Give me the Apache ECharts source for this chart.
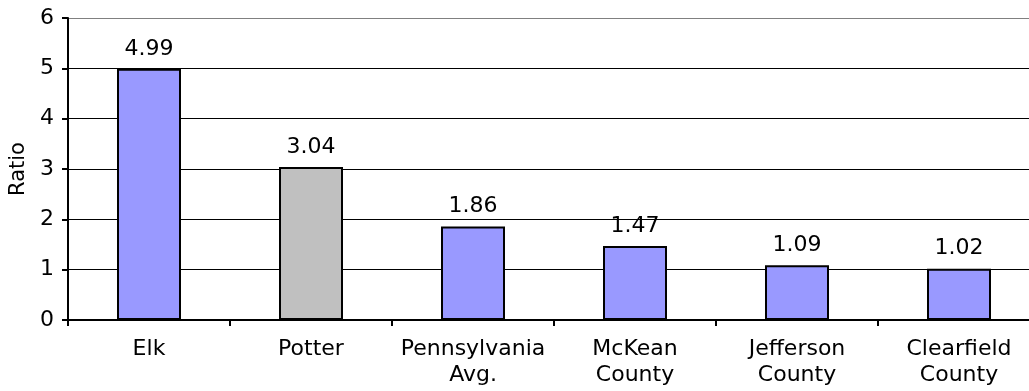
<!DOCTYPE html>
<html><head><meta charset="utf-8">
<script src="https://cdn.jsdelivr.net/npm/echarts@6/dist/echarts.min.js"></script>
<style>html,body{margin:0;padding:0;background:#fff}#c{width:1029px;height:391px}</style>
</head><body><div id="c"></div>
<script>
var categories = ['Elk', 'Potter', 'Pennsylvania\nAvg.', 'McKean\nCounty', 'Jefferson\nCounty', 'Clearfield\nCounty'];
var values = [4.99, 3.04, 1.86, 1.47, 1.09, 1.02];
var barColors = ['#9999FF', '#C0C0C0', '#9999FF', '#9999FF', '#9999FF', '#9999FF'];
var yTicks = [0, 1, 2, 3, 4, 5, 6];

var font = 'DejaVu Sans, Verdana, sans-serif';
var chart = echarts.init(document.getElementById('c'), null, {renderer: 'canvas'});
chart.setOption({
  animation: false,
  grid: {left: 68, top: 18, width: 972, height: 302, outerBoundsMode: 'none', containLabel: false},
  xAxis: {
    type: 'category', data: categories,
    axisLine: {lineStyle: {color: '#000', width: 2}},
    axisTick: {show: true, alignWithLabel: false, length: 6, lineStyle: {color: '#000', width: 2}},
    axisLabel: {color: '#000', fontFamily: font, fontSize: 22, lineHeight: 26, margin: 16, interval: 0}
  },
  yAxis: {
    type: 'value', min: 0, max: 6, interval: 1,
    name: 'Ratio', nameLocation: 'middle', nameGap: 38, nameRotate: 90,
    nameTextStyle: {color: '#000', fontFamily: font, fontSize: 21},
    axisLine: {show: true, lineStyle: {color: '#000', width: 2}},
    axisTick: {show: true, length: 6, lineStyle: {color: '#000', width: 2}},
    axisLabel: {color: '#000', fontFamily: font, fontSize: 22, margin: 14,
      formatter: function (v) { return yTicks.indexOf(v) >= 0 ? String(v) : ''; }},
    splitLine: {show: true, lineStyle: {color: ['#000', '#000', '#000', '#000', '#000', '#000', '#808080'], width: 1}}
  },
  series: [{
    type: 'bar', barWidth: 64,
    data: values.map(function (v, i) { return {value: v, itemStyle: {color: barColors[i]}}; }),
    itemStyle: {borderColor: '#000', borderWidth: 2},
    label: {show: true, position: 'top', distance: 9, color: '#000', fontFamily: font, fontSize: 22,
      formatter: function (p) { return p.value.toFixed(2); }}
  }]
});
</script></body></html>
